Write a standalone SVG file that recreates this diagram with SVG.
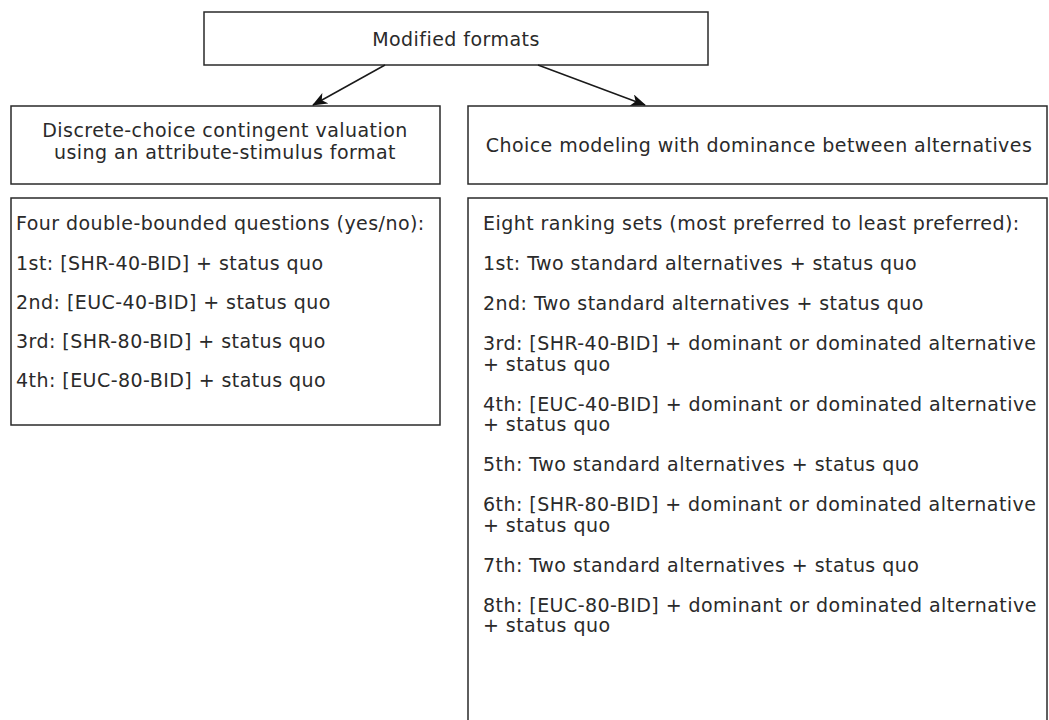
<svg xmlns="http://www.w3.org/2000/svg" width="1049" height="720" viewBox="0 0 1049 720">
<style>
.box{fill:#fff;stroke:#2a2a2a;stroke-width:1.5}
.t{font-family:"DejaVu Sans","Verdana",sans-serif;font-size:19px;letter-spacing:0.45px;fill:#2a2a2a}
.c{text-anchor:middle}
.conn{stroke:#1a1a1a;stroke-width:1.5;fill:none}
</style>
<defs>
<marker id="ah" viewBox="0 0 15 12" refX="14" refY="6" markerWidth="15" markerHeight="12" markerUnits="userSpaceOnUse" orient="auto">
<path d="M0,0 L15,6 L0,12 L4,6 z" fill="#111"/>
</marker>
</defs>
<rect width="1049" height="720" fill="#fff"/>
<g id="n-top">
<rect class="box" x="204" y="12" width="504" height="53"/>
<text class="t c" x="456" y="46">Modified formats</text>
</g>
<g id="n-dccv">
<rect class="box" x="11" y="106" width="429" height="78"/>
<text class="t c" x="225" y="137">Discrete-choice contingent valuation</text>
<text class="t c" x="225" y="159">using an attribute-stimulus format</text>
</g>
<g id="n-cm">
<rect class="box" x="468" y="106" width="579" height="78"/>
<text class="t c" x="759" y="152">Choice modeling with dominance between alternatives</text>
</g>
<g id="n-dccv-list">
<rect class="box" x="11" y="198" width="429" height="227"/>
<text class="t" x="16" y="230">Four double-bounded questions (yes/no):</text>
<text class="t" x="16" y="270">1st: [SHR-40-BID] + status quo</text>
<text class="t" x="16" y="309">2nd: [EUC-40-BID] + status quo</text>
<text class="t" x="16" y="348">3rd: [SHR-80-BID] + status quo</text>
<text class="t" x="16" y="387">4th: [EUC-80-BID] + status quo</text>
</g>
<g id="n-cm-list">
<rect class="box" x="468" y="198" width="579" height="530"/>
<text class="t" x="483" y="230">Eight ranking sets (most preferred to least preferred):</text>
<text class="t" x="483" y="270">1st: Two standard alternatives + status quo</text>
<text class="t" x="483" y="310">2nd: Two standard alternatives + status quo</text>
<text class="t" x="483" y="350">3rd: [SHR-40-BID] + dominant or dominated alternative</text>
<text class="t" x="483" y="370.5">+ status quo</text>
<text class="t" x="483" y="410.5">4th: [EUC-40-BID] + dominant or dominated alternative</text>
<text class="t" x="483" y="431">+ status quo</text>
<text class="t" x="483" y="471">5th: Two standard alternatives + status quo</text>
<text class="t" x="483" y="511">6th: [SHR-80-BID] + dominant or dominated alternative</text>
<text class="t" x="483" y="531.5">+ status quo</text>
<text class="t" x="483" y="571.5">7th: Two standard alternatives + status quo</text>
<text class="t" x="483" y="611.5">8th: [EUC-80-BID] + dominant or dominated alternative</text>
<text class="t" x="483" y="632">+ status quo</text>
</g>
<g id="connectors">
<line class="conn" x1="385" y1="65" x2="313" y2="105" marker-end="url(#ah)"/>
<line class="conn" x1="538" y1="65" x2="645" y2="105" marker-end="url(#ah)"/>
</g>
</svg>
